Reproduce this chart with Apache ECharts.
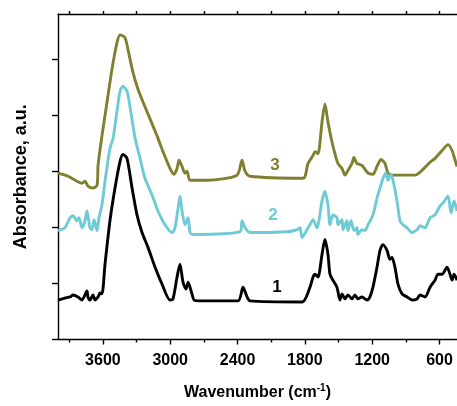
<!DOCTYPE html>
<html>
<head>
<meta charset="utf-8">
<script src="https://cdn.jsdelivr.net/npm/echarts@6/dist/echarts.min.js"></script>
<style>
html,body{margin:0;padding:0;background:#fff;}
#chart{width:457px;height:406px;}
</style>
</head>
<body>
<div id="chart"></div>
<script>
// Wavenumber (cm-1) / absorbance (a.u.) pairs
const spectrum1 = [
[4000,0.141],[3938,0.148],[3893,0.152],[3866,0.159],[3822,0.152],[3786,0.141],[3742,0.173],[3733,0.152],
[3715,0.141],[3688,0.159],[3670,0.141],[3643,0.152],[3626,0.166],[3608,0.163],[3581,0.269],[3537,0.424],
[3492,0.541],[3447,0.636],[3421,0.661],[3385,0.647],[3340,0.541],[3296,0.445],[3251,0.382],[3198,0.329],
[3135,0.258],[3073,0.198],[3002,0.141],[2975,0.145],[2939,0.223],[2913,0.269],[2886,0.205],[2859,0.180],
[2841,0.205],[2806,0.163],[2788,0.141],[2734,0.138],[2396,0.138],[2351,0.187],[2315,0.152],[2289,0.138],
[1825,0.134],[1754,0.187],[1727,0.223],[1709,0.233],[1683,0.223],[1647,0.304],[1621,0.357],[1594,0.304],
[1576,0.233],[1550,0.212],[1514,0.187],[1487,0.141],[1469,0.163],[1442,0.145],[1416,0.159],[1380,0.145],
[1354,0.159],[1327,0.145],[1291,0.152],[1246,0.141],[1220,0.152],[1193,0.187],[1157,0.258],[1130,0.318],
[1103,0.339],[1068,0.318],[1041,0.286],[1023,0.293],[997,0.258],[970,0.198],[934,0.163],[889,0.152],
[845,0.141],[800,0.145],[774,0.159],[729,0.152],[684,0.187],[640,0.212],[613,0.233],[577,0.233],
[533,0.258],[506,0.233],[488,0.212],[470,0.233],[444,0.212]
];
const spectrum2 = [
[4000,0.389],[3938,0.399],[3893,0.435],[3866,0.442],[3831,0.424],[3813,0.435],[3786,0.399],[3759,0.424],
[3742,0.459],[3715,0.399],[3697,0.392],[3679,0.428],[3652,0.389],[3635,0.435],[3608,0.481],[3581,0.565],
[3537,0.682],[3510,0.717],[3474,0.816],[3447,0.887],[3421,0.905],[3385,0.887],[3358,0.830],[3314,0.721],
[3269,0.647],[3225,0.576],[3162,0.516],[3109,0.459],[3046,0.410],[2984,0.382],[2957,0.399],[2930,0.470],
[2913,0.512],[2895,0.459],[2868,0.410],[2841,0.435],[2823,0.382],[2797,0.375],[2378,0.385],[2360,0.424],
[2333,0.399],[2289,0.382],[1959,0.385],[1870,0.392],[1843,0.399],[1825,0.364],[1772,0.399],[1754,0.410],
[1727,0.428],[1692,0.399],[1647,0.495],[1621,0.530],[1594,0.481],[1576,0.410],[1550,0.445],[1514,0.435],
[1505,0.410],[1469,0.428],[1460,0.392],[1425,0.424],[1416,0.389],[1389,0.424],[1362,0.389],[1336,0.399],
[1327,0.375],[1291,0.392],[1264,0.389],[1237,0.410],[1193,0.445],[1157,0.505],[1130,0.541],[1103,0.576],
[1077,0.594],[1059,0.569],[1032,0.590],[1005,0.551],[979,0.495],[952,0.424],[925,0.410],[889,0.399],
[845,0.382],[800,0.392],[774,0.406],[729,0.399],[684,0.435],[640,0.445],[595,0.477],[568,0.488],
[524,0.512],[497,0.452],[470,0.495],[444,0.459]
];
const spectrum3 = [
[4000,0.594],[3911,0.583],[3848,0.569],[3786,0.558],[3759,0.565],[3733,0.548],[3688,0.541],[3652,0.551],
[3643,0.622],[3608,0.728],[3563,0.848],[3519,0.965],[3474,1.060],[3447,1.088],[3403,1.078],[3376,1.035],
[3332,0.954],[3287,0.894],[3242,0.848],[3180,0.788],[3118,0.728],[3064,0.671],[3002,0.611],[2966,0.590],
[2939,0.611],[2921,0.640],[2895,0.618],[2868,0.594],[2850,0.601],[2823,0.569],[2672,0.569],[2405,0.587],
[2360,0.640],[2333,0.601],[2289,0.583],[1816,0.576],[1772,0.629],[1727,0.657],[1709,0.671],[1683,0.664],
[1647,0.777],[1621,0.841],[1594,0.777],[1559,0.707],[1532,0.664],[1505,0.629],[1469,0.611],[1442,0.587],
[1416,0.604],[1380,0.629],[1362,0.650],[1336,0.629],[1291,0.622],[1237,0.594],[1193,0.590],[1157,0.618],
[1121,0.643],[1086,0.629],[1059,0.594],[1023,0.587],[818,0.587],[756,0.604],[684,0.633],[640,0.647],
[577,0.675],[524,0.696],[488,0.675],[461,0.640],[444,0.618]
];
const curveNames = ['1', '2', '3'];
const curveLabelAt = [[2048,0.187],[2084,0.445],[2066,0.622]];
const majorTicks = [600, 1200, 1800, 2400, 3000, 3600];
const minorTicks = [900, 1500, 2100, 2700, 3300, 3900];
const allTicks = [600, 900, 1200, 1500, 1800, 2100, 2400, 2700, 3000, 3300, 3600, 3900];
const yTicks = [0, 0.2, 0.4, 0.6, 0.8, 1.0];

const colors = ['#000000', '#6ecbd6', '#7f7f2f'];
const spectra = [spectrum1, spectrum2, spectrum3];
const FONT = 'Liberation Sans, Arial, sans-serif';

const chart = echarts.init(document.getElementById('chart'), null, {renderer: 'canvas'});
const axisLineStyle = {color: '#000', width: 1.4};
const xBase = {type: 'value', min: 444, max: 4000, inverse: true, gridIndex: 0, splitLine: {show: false}};

const series = [2, 1, 0].map(i => ({
  type: 'line',
  name: curveNames[i],
  xAxisIndex: 0,
  data: spectra[i],
  showSymbol: false,
  smooth: 0.25,
  lineStyle: {color: colors[i], width: 2.9},
  itemStyle: {color: colors[i]},
  z: 3 - i,
  animation: false,
  markPoint: {
    symbol: 'circle', symbolSize: 0, animation: false,
    label: {show: true, position: 'inside', formatter: curveNames[i], color: colors[i],
      fontFamily: FONT, fontWeight: 'bold', fontSize: 17},
    data: [{coord: curveLabelAt[i]}]
  }
}));

chart.setOption({
  animation: false,
  backgroundColor: '#fff',
  grid: {left: 58, right: 0, top: 14, bottom: 63, containLabel: false},
  xAxis: [
    Object.assign({}, xBase, {
      position: 'bottom',
      name: 'Wavenumber (cm{sup|-1})',
      nameLocation: 'middle',
      nameGap: 44,
      nameTextStyle: {fontFamily: FONT, fontWeight: 'bold', fontSize: 16, color: '#000',
        rich: {sup: {fontFamily: FONT, fontWeight: 'bold', fontSize: 10, color: '#000', padding: [0,0,9,0]}}},
      axisLine: {show: true, lineStyle: axisLineStyle},
      axisTick: {show: true, length: 5, inside: false, customValues: majorTicks, lineStyle: axisLineStyle},
      axisLabel: {show: true, customValues: majorTicks, margin: 13, formatter: v => String(v),
        fontFamily: FONT, fontWeight: 'bold', fontSize: 16, color: '#000'}
    }),
    Object.assign({}, xBase, {
      position: 'bottom',
      axisLine: {show: false},
      axisTick: {show: true, length: 3, customValues: minorTicks, lineStyle: axisLineStyle},
      axisLabel: {show: false}
    }),
    Object.assign({}, xBase, {
      position: 'top',
      axisLine: {show: true, lineStyle: axisLineStyle},
      axisTick: {show: true, length: 3, customValues: allTicks, lineStyle: axisLineStyle},
      axisLabel: {show: false}
    })
  ],
  yAxis: {
    type: 'value', min: 0, max: 1.1625,
    name: 'Absorbance, a.u.',
    nameLocation: 'middle',
    nameGap: 28,
    nameTextStyle: {fontFamily: FONT, fontWeight: 'bold', fontSize: 18, color: '#000'},
    axisLine: {show: true, lineStyle: axisLineStyle},
    axisTick: {show: true, length: 6, customValues: yTicks, lineStyle: axisLineStyle},
    axisLabel: {show: false},
    splitLine: {show: false}
  },
  series: series
});
</script>
</body>
</html>
